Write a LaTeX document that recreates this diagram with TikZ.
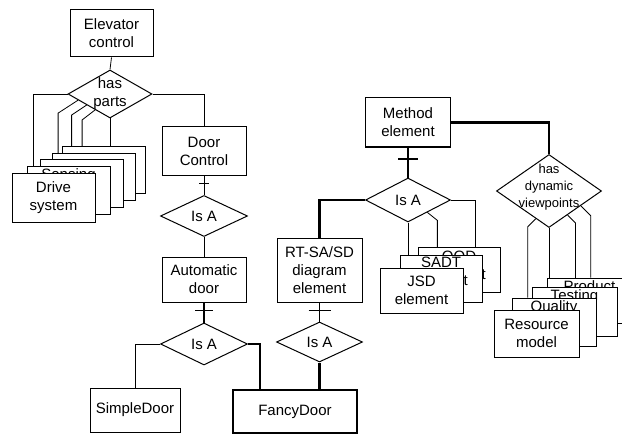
\documentclass[tikz,border=0pt]{standalone}
\usepackage{fontspec}
\setmainfont{Liberation Sans}
\usetikzlibrary{shapes.geometric,calc,backgrounds}

\tikzset{
  entity/.style={draw,fill=white,line width=1pt,inner sep=0pt,align=center,
    font=\fontsize{15}{18}\selectfont},
  relation/.style={diamond,draw,fill=white,line width=1pt,inner sep=0pt},
  reltext/.style={align=center,inner sep=0pt,font=\fontsize{15}{18}\selectfont},
  peek/.style={anchor=north,inner sep=3pt,align=center,font=\fontsize{15}{18}\selectfont},
  conn/.style={line width=0.8pt},
  strong/.style={line width=2.4pt}
}

\begin{document}
\begin{tikzpicture}[x=1pt,y=-1pt]
\useasboundingbox (0,0) rectangle (622,436);
\clip (0,0) rectangle (622,436);

% elevator side
\node[entity,minimum width=83,minimum height=47] (elevator) at (111.5,33.5) {Elevator\\control};
\node[relation,minimum width=84,minimum height=48] (hasparts) at (110,94) {};
\node[reltext] (haspartslbl) at (hasparts) {has\\parts};
\node[entity,minimum width=83,minimum height=46] (part5) at (103.5,170) {};
\node[entity,minimum width=83,minimum height=47] (part4) at (93.5,176.5) {};
\node[entity,minimum width=83,minimum height=48] (part3) at (81.5,183) {};
\node[entity,minimum width=83,minimum height=48,label={[peek]north:Sensing}] (sensing) at (68.5,190) {};
\node[entity,minimum width=83,minimum height=49] (drive) at (53.5,197.5) {Drive\\system};

\node[entity,minimum width=84,minimum height=48] (doorctl) at (204,151) {Door\\Control};
\node[relation,minimum width=87,minimum height=41] (isadoor) at (204,216) {};
\node[reltext] (isadoorlbl) at (isadoor) {Is A};
\node[entity,minimum width=84,minimum height=45] (auto) at (204,279.5) {Automatic\\door};
\node[relation,minimum width=87,minimum height=42] (isaauto) at (204,344) {};
\node[reltext] (isaautolbl) at (isaauto) {Is A};
\node[entity,minimum width=90,minimum height=44] (simple) at (135,410) {SimpleDoor};
\node[entity,line width=2.4pt,minimum width=124,minimum height=43] (fancy) at (295,411.5) {FancyDoor};

% method side
\node[entity,minimum width=85,minimum height=64] (rtsa) at (319.5,270) {RT-SA/SD\\diagram\\element};
\node[relation,minimum width=86,minimum height=40] (isartsa) at (319.5,342) {};
\node[reltext] (isartsalbl) at (isartsa) {Is A};
\node[entity,minimum width=85,minimum height=49] (method) at (408,122.5) {Method\\element};
\node[relation,minimum width=85,minimum height=44] (isamethod) at (408,200) {};
\node[reltext] (isamethodlbl) at (isamethod) {Is A};
\node[entity,minimum width=82,minimum height=45,label={[peek,inner sep=4pt]north:OOD\\element}] (ood) at (459,269.5) {};
\node[entity,minimum width=82,minimum height=47,label={[peek,inner sep=2pt]north:SADT\\element}] (sadt) at (441,278.5) {};
\node[entity,minimum width=83,minimum height=45] (jsd) at (421.5,290.5) {JSD\\element};

\node[relation,minimum width=105,minimum height=73] (hdv) at (549,191) {};
\node[reltext,font=\fontsize{13}{17}\selectfont] (hdvlbl) at (549,187) {has\\dynamic\\viewpoints};
\node[entity,minimum width=85,minimum height=45,label={[peek]north:Product}] (product) at (589.5,300.5) {};
\node[entity,minimum width=85,minimum height=49,label={[peek]north:Testing}] (testing) at (574.5,311.5) {};
\node[entity,minimum width=84,minimum height=48,label={[peek]north:Quality}] (quality) at (554,322) {};
\node[entity,minimum width=85,minimum height=47] (resource) at (536.5,333.5) {Resource\\model};

\begin{scope}[on background layer]
\fill[white] (0,0) rectangle (622,436);
\draw[conn] (elevator.south) -- (hasparts.north);
\draw[conn] (hasparts.east) -| (doorctl.north);
\draw[conn] (hasparts.west) -| ([xshift=-20.5pt]drive.north);
\draw[conn] ($(hasparts.west)!0.25!(hasparts.south)$) -- ++(-20,13) coordinate (s1) -- (s1 |- sensing.north);
\draw[conn] ($(hasparts.west)!0.45!(hasparts.south)$) -- ++(-15,10) coordinate (s2) -- (s2 |- part3.north);
\draw[conn] ($(hasparts.west)!0.65!(hasparts.south)$) -- ++(-13,10) coordinate (s3) -- (s3 |- part4.north);
\draw[conn] (hasparts.south) -- (hasparts.south |- part5.north);
\draw[conn] (doorctl.south) -- (isadoor.north);
\draw[conn] (isadoor.south) -- (auto.north);
\draw[conn,line width=1.2pt] (auto.south) -- (isaauto.north);
\draw[conn] (isaauto.west) -| (simple.north);
\draw[strong] (isaauto.east) -| ([xshift=-35pt]fancy.north);
\draw[conn,line width=1.2pt] (rtsa.south) -- (isartsa.north);
\draw[strong] (isartsa.south) -- (isartsa.south |- fancy.north);
\draw[strong] (method.south) -- (isamethod.north);
\draw[strong] (isamethod.west) -| (rtsa.north);
\draw[conn] (isamethod.east) -| ([xshift=16pt]ood.north);
\draw[conn] (isamethod.south) -- (isamethod.south |- jsd.north);
\draw[conn] ($(isamethod.south)!0.45!(isamethod.east)$) -- ++(10,8) coordinate (s4) -- (s4 |- sadt.north);
\draw[strong] (method.east) -| (hdv.north);
\draw[conn] ($(hdv.south)!0.25!(hdv.west)$) -- ++(-8,8) coordinate (s5) -- (s5 |- quality.north);
\draw[conn] (hdv.south) -- (hdv.south |- resource.north);
\draw[conn] ($(hdv.south)!0.35!(hdv.east)$) -- ++(8,8) coordinate (s6) -- (s6 |- testing.north);
\draw[conn] ($(hdv.south)!0.6!(hdv.east)$) -- ++(10,10) coordinate (s7) -- (s7 |- product.north);
\end{scope}

% cardinality ticks
\draw[conn] ($(doorctl.south)+(-5,8)$) -- ++(10,0);
\draw[line width=1.6pt] ($(auto.south)+(-9,8)$) -- ++(18,0);
\draw[line width=1.6pt] ($(rtsa.south)+(-11,8)$) -- ++(22,0);
\draw[line width=2pt] ($(method.south)+(-10,11)$) -- ++(20,0);
\end{tikzpicture}
\end{document}
